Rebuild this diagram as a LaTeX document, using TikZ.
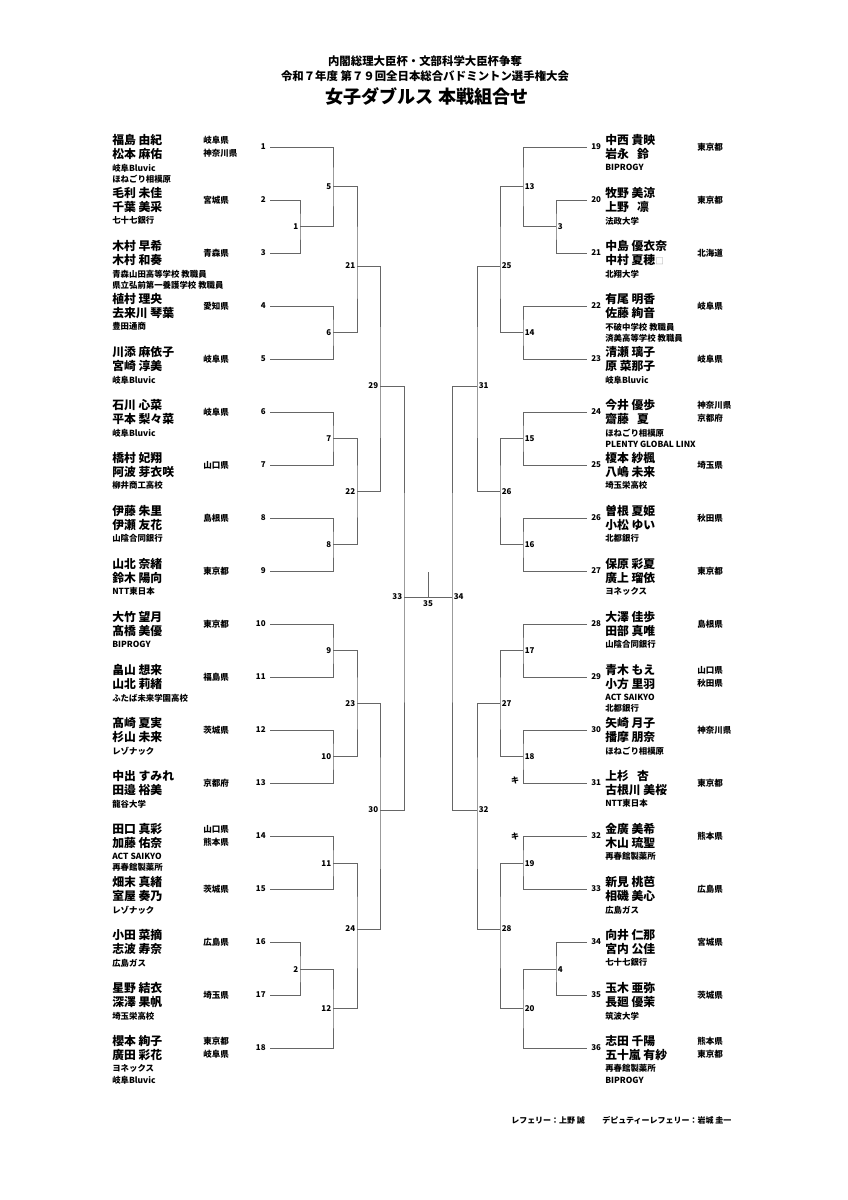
\documentclass[tikz,border=0pt]{standalone}
\usepackage{fontspec}
\setmainfont{Noto Sans CJK JP}
\usetikzlibrary{positioning, calc}
\newcommand{\wsp}{\hspace{0.7em}}
\tikzset{
  bracket/.style={draw=black!60, line width=0.6pt},
  namebox/.style={anchor=west, align=left, inner sep=0pt, font=\fontsize{8.3}{9.8}\selectfont\bfseries},
  prefbox/.style={anchor=west, align=left, inner sep=0pt, font=\fontsize{6}{9.4}\selectfont\bfseries},
  affilbox/.style={anchor=north west, align=left, inner sep=0pt, font=\fontsize{5.9}{7.9}\selectfont\bfseries},
  seedno/.style={inner sep=0pt, font=\fontsize{5.6}{6}\selectfont\bfseries},
  matchno/.style={inner sep=0pt, font=\fontsize{5.6}{6}\selectfont\bfseries},
  titlebox/.style={inner sep=0pt, font=\fontsize{8}{9}\selectfont\bfseries},
  footbox/.style={anchor=west, inner sep=0pt, font=\fontsize{5.6}{6}\selectfont\bfseries},
}
% left half: seeds 1-18, right half: seeds 19-36
\newcommand{\teamL}[4]{%
  \node[namebox] (nm#1) at (112,{147+(#1-1)*53}) {#2};
  \node[prefbox] (pf#1) at (203,{147+(#1-1)*53}) {#3};
  \node[affilbox] (af#1) at (112,{163.5+(#1-1)*53}) {#4};
  \node[seedno, anchor=east] (sd#1) at (266,{147+(#1-1)*53}) {#1};
  \coordinate (e#1) at (270,{147+(#1-1)*53});
}
\newcommand{\teamR}[4]{%
  \node[namebox] (nm#1) at (605,{147+(#1-19)*53}) {#2};
  \node[prefbox] (pf#1) at (697,{147+(#1-19)*53}) {#3};
  \node[affilbox] (af#1) at (605,{163.5+(#1-19)*53}) {#4};
  \node[seedno, anchor=west] (sd#1) at (591,{147+(#1-19)*53}) {#1};
  \coordinate (e#1) at (587,{147+(#1-19)*53});
}
\newcommand{\matchL}[3]{%
  \coordinate (m#1) at (#2,#3);
  \node[matchno, anchor=east] (ml#1) at ({#2-1.5},#3) {#1};
}
\newcommand{\matchR}[3]{%
  \coordinate (m#1) at (#2,#3);
  \node[matchno, anchor=west] (ml#1) at ({#2+1.5},#3) {#1};
}

\begin{document}
\begin{tikzpicture}[x=0.7017pt, y=-0.7017pt]
  \useasboundingbox (0,0) rectangle (848,1200);

  % heading
  \node[titlebox] (title1) at (425,61) {内閣総理大臣杯・文部科学大臣杯争奪};
  \node[titlebox] (title2) at (425,76) {令和７年度 第７９回全日本総合バドミントン選手権大会};
  \node[titlebox, font=\fontsize{12.7}{14}\selectfont\bfseries] (title3) at (427,96) {女子ダブルス 本戦組合せ};

  % teams
  \teamL{1}{福島 由紀\\松本 麻佑}{岐阜県\\神奈川県}{岐阜Bluvic\\ほねごり相模原}
  \teamL{2}{毛利 未佳\\千葉 美采}{宮城県}{七十七銀行}
  \teamL{3}{木村 早希\\木村 和奏}{青森県}{青森山田高等学校 教職員\\県立弘前第一養護学校 教職員}
  \teamL{4}{植村 理央\\去来川 琴葉}{愛知県}{豊田通商}
  \teamL{5}{川添 麻依子\\宮崎 淳美}{岐阜県}{岐阜Bluvic}
  \teamL{6}{石川 心菜\\平本 梨々菜}{岐阜県}{岐阜Bluvic}
  \teamL{7}{橋村 妃翔\\阿波 芽衣咲}{山口県}{柳井商工高校}
  \teamL{8}{伊藤 朱里\\伊瀬 友花}{島根県}{山陰合同銀行}
  \teamL{9}{山北 奈緒\\鈴木 陽向}{東京都}{NTT東日本}
  \teamL{10}{大竹 望月\\髙橋 美優}{東京都}{BIPROGY}
  \teamL{11}{畠山 想来\\山北 莉緒}{福島県}{ふたば未来学園高校}
  \teamL{12}{髙崎 夏実\\杉山 未来}{茨城県}{レゾナック}
  \teamL{13}{中出 すみれ\\田邉 裕美}{京都府}{龍谷大学}
  \teamL{14}{田口 真彩\\加藤 佑奈}{山口県\\熊本県}{ACT SAIKYO\\再春館製薬所}
  \teamL{15}{畑末 真緒\\室屋 奏乃}{茨城県}{レゾナック}
  \teamL{16}{小田 菜摘\\志波 寿奈}{広島県}{広島ガス}
  \teamL{17}{星野 結衣\\深澤 果帆}{埼玉県}{埼玉栄高校}
  \teamL{18}{櫻本 絢子\\廣田 彩花}{東京都\\岐阜県}{ヨネックス\\岐阜Bluvic}

  \teamR{19}{中西 貴映\\岩永\wsp 鈴}{東京都}{BIPROGY}
  \teamR{20}{牧野 美涼\\上野\wsp 凛}{東京都}{法政大学}
  \teamR{21}{中島 優衣奈\\中村 夏穂{\color{black!35}\fontsize{6}{6}\selectfont □}}{北海道}{北翔大学}
  \teamR{22}{有尾 明香\\佐藤 絢音}{岐阜県}{不破中学校 教職員\\済美高等学校 教職員}
  \teamR{23}{清瀬 璃子\\原 菜那子}{岐阜県}{岐阜Bluvic}
  \teamR{24}{今井 優歩\\齋藤\wsp 夏}{神奈川県\\京都府}{ほねごり相模原\\PLENTY GLOBAL LINX}
  \teamR{25}{榎本 紗楓\\八嶋 未来}{埼玉県}{埼玉栄高校}
  \teamR{26}{曽根 夏姫\\小松 ゆい}{秋田県}{北都銀行}
  \teamR{27}{保原 彩夏\\廣上 瑠依}{東京都}{ヨネックス}
  \teamR{28}{大澤 佳歩\\田部 真唯}{島根県}{山陰合同銀行}
  \teamR{29}{青木 もえ\\小方 里羽}{山口県\\秋田県}{ACT SAIKYO\\北都銀行}
  \teamR{30}{矢崎 月子\\播摩 朋奈}{神奈川県}{ほねごり相模原}
  \teamR{31}{上杉\wsp 杏\\古根川 美桜}{東京都}{NTT東日本}
  \teamR{32}{金廣 美希\\木山 琉聖}{熊本県}{再春館製薬所}
  \teamR{33}{新見 桃芭\\相磯 美心}{広島県}{広島ガス}
  \teamR{34}{向井 仁那\\宮内 公佳}{宮城県}{七十七銀行}
  \teamR{35}{玉木 亜弥\\長廻 優茉}{茨城県}{筑波大学}
  \teamR{36}{志田 千陽\\五十嵐 有紗}{熊本県\\東京都}{再春館製薬所\\BIPROGY}

  % match points, left
  \matchL{1}{300}{226.5}
  \matchL{2}{300}{969.5}
  \matchL{5}{333}{186.75}
  \matchL{6}{333}{332.5}
  \matchL{7}{333}{438.5}
  \matchL{8}{333}{544.5}
  \matchL{9}{333}{650.5}
  \matchL{10}{333}{756.5}
  \matchL{11}{333}{863.5}
  \matchL{12}{333}{1008.75}
  \matchL{21}{357}{266}
  \matchL{22}{357}{491.5}
  \matchL{23}{357}{703.5}
  \matchL{24}{357}{929}
  \matchL{29}{380}{386}
  \matchL{30}{380}{810}
  \matchL{33}{404}{597}

  % match points, right
  \matchR{3}{556}{226.5}
  \matchR{4}{556}{969.5}
  \matchR{13}{523}{186.75}
  \matchR{14}{523}{332.5}
  \matchR{15}{523}{438.5}
  \matchR{16}{523}{544.5}
  \matchR{17}{523}{650.5}
  \matchR{18}{523}{756.5}
  \matchR{19}{523}{863.5}
  \matchR{20}{523}{1008.75}
  \matchR{25}{500}{266}
  \matchR{26}{500}{491.5}
  \matchR{27}{500}{703.5}
  \matchR{28}{500}{929}
  \matchR{31}{477}{386}
  \matchR{32}{477}{810}
  \matchR{34}{452}{597}

  % brackets, left
  \draw[bracket] (e2) -| (m1) |- (e3);
  \draw[bracket] (e16) -| (m2) |- (e17);
  \draw[bracket] (e1) -| (m5) |- (m1);
  \draw[bracket] (e4) -| (m6) |- (e5);
  \draw[bracket] (e6) -| (m7) |- (e7);
  \draw[bracket] (e8) -| (m8) |- (e9);
  \draw[bracket] (e10) -| (m9) |- (e11);
  \draw[bracket] (e12) -| (m10) |- (e13);
  \draw[bracket] (e14) -| (m11) |- (e15);
  \draw[bracket] (m2) -| (m12) |- (e18);
  \draw[bracket] (m5) -| (m21) |- (m6);
  \draw[bracket] (m7) -| (m22) |- (m8);
  \draw[bracket] (m9) -| (m23) |- (m10);
  \draw[bracket] (m11) -| (m24) |- (m12);
  \draw[bracket] (m21) -| (m29) |- (m22);
  \draw[bracket] (m23) -| (m30) |- (m24);
  \draw[bracket] (m29) -| (m33) |- (m30);

  % brackets, right
  \draw[bracket] (e20) -| (m3) |- (e21);
  \draw[bracket] (e34) -| (m4) |- (e35);
  \draw[bracket] (e19) -| (m13) |- (m3);
  \draw[bracket] (e22) -| (m14) |- (e23);
  \draw[bracket] (e24) -| (m15) |- (e25);
  \draw[bracket] (e26) -| (m16) |- (e27);
  \draw[bracket] (e28) -| (m17) |- (e29);
  \draw[bracket] (e30) -| (m18) |- (e31);
  \draw[bracket] (e32) -| (m19) |- (e33);
  \draw[bracket] (m4) -| (m20) |- (e36);
  \draw[bracket] (m13) -| (m25) |- (m14);
  \draw[bracket] (m15) -| (m26) |- (m16);
  \draw[bracket] (m17) -| (m27) |- (m18);
  \draw[bracket] (m19) -| (m28) |- (m20);
  \draw[bracket] (m25) -| (m31) |- (m26);
  \draw[bracket] (m27) -| (m32) |- (m28);
  \draw[bracket] (m31) -| (m34) |- (m32);

  % final
  \draw[bracket] (m33) -- (m34);
  \coordinate (top35) at (428,572);
  \draw[bracket] (top35) -- (top35 |- m33);
  \node[matchno, anchor=north] (ml35) at (428,600) {35};

  \node[matchno] (markA) at (515,780) {キ};
  \node[matchno] (markB) at (515,836) {キ};

  % officials
  \node[footbox] (referee) at (511,1120) {レフェリー：上野 誠};
  \node[footbox] (deputy) at (602,1120) {デピュティーレフェリー：岩城 圭一};
\end{tikzpicture}
\end{document}
